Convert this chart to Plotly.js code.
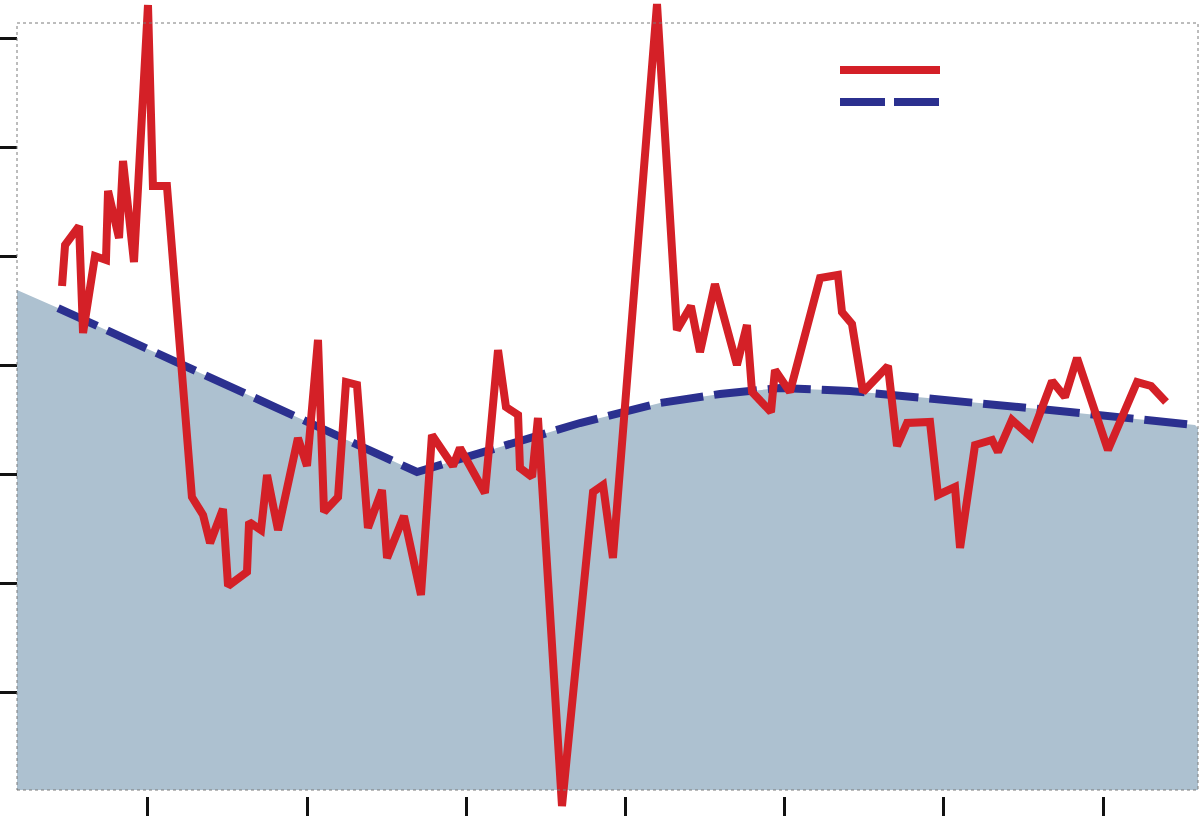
<!DOCTYPE html>
<html>
<head>
<meta charset="utf-8">
<script src="https://cdn.plot.ly/plotly-3.0.1.min.js"></script>
<style>
  html, body { margin: 0; padding: 0; background: #ffffff; }
  #chart { width: 1200px; height: 816px; }
</style>
</head>
<body>
<div id="chart"></div>
<script>
// ---- data (axis units: x ticks 1..7, y ticks 0..6) ----
const xTickVals = [1, 2, 3, 4, 5, 6, 7];
const yTickVals = [0, 1, 2, 3, 4, 5, 6];

const redX = [0.460, 0.479, 0.567, 0.592, 0.667, 0.736, 0.749, 0.818, 0.843, 0.912,
  1.000, 1.031, 1.119, 1.276, 1.346, 1.390, 1.471, 1.503, 1.622, 1.635,
  1.710, 1.748, 1.817, 1.942, 1.999, 2.068, 2.106, 2.194, 2.244, 2.313,
  2.382, 2.470, 2.502, 2.608, 2.715, 2.784, 2.916, 2.960, 3.117, 3.199,
  3.249, 3.325, 3.337, 3.413, 3.450, 3.601, 3.796, 3.859, 3.921, 4.198,
  4.323, 4.411, 4.468, 4.562, 4.700, 4.763, 4.795, 4.914, 4.939, 5.033,
  5.222, 5.335, 5.360, 5.423, 5.492, 5.649, 5.706, 5.769, 5.913, 5.963,
  6.070, 6.102, 6.196, 6.303, 6.340, 6.428, 6.548, 6.680, 6.761, 6.837,
  7.031, 7.214, 7.302, 7.396];
const redY = [3.730, 4.106, 4.280, 3.299, 4.005, 3.969, 4.602, 4.170, 4.877, 3.950,
  6.308, 4.647, 4.647, 1.794, 1.629, 1.372, 1.684, 0.978, 1.106, 1.565,
  1.491, 1.996, 1.491, 2.335, 2.079, 3.235, 1.657, 1.794, 2.849, 2.822,
  1.510, 1.858, 1.235, 1.620, 0.895, 2.363, 2.079, 2.244, 1.831, 3.143,
  2.620, 2.547, 2.060, 1.978, 2.519, -1.041, 1.840, 1.904, 1.235, 6.317,
  3.326, 3.547, 3.124, 3.748, 3.005, 3.372, 2.758, 2.574, 2.959, 2.758,
  3.803, 3.831, 3.491, 3.381, 2.758, 2.996, 2.262, 2.473, 2.482, 1.813,
  1.886, 1.326, 2.271, 2.317, 2.207, 2.501, 2.345, 2.858, 2.712, 3.069,
  2.225, 2.849, 2.813, 2.666];

const blueX = [0.435, 2.690, 3.714, 4.217, 4.594, 4.971, 5.410, 6.039, 6.667, 7.578];
const blueY = [3.528, 2.024, 2.473, 2.657, 2.739, 2.794, 2.767, 2.684, 2.592, 2.455];

const areaX = [0.177, 0.435, 2.690, 3.714, 4.217, 4.594, 4.971, 5.410, 6.039, 6.667, 7.578, 7.597];
const areaY = [3.693, 3.528, 2.024, 2.473, 2.657, 2.739, 2.794, 2.767, 2.684, 2.592, 2.455, 2.427];

// ---- layout geometry ----
const W = 1200, H = 816;
const xRange = [0.0702, 7.6094];
const yRange = [-1.1324, 6.3539];
const box = { x0: 17 / W, x1: 1198 / W, y0: (H - 790) / H, y1: (H - 23) / H };
const fx = f => xRange[0] + f * (xRange[1] - xRange[0]);
const fy = f => yRange[0] + f * (yRange[1] - yRange[0]);

const RED = 'rgb(212,32,39)';
const BLUE = 'rgb(43,48,143)';
const FILL = 'rgb(173,193,208)';

const traces = [
  { x: [fx(box.x0), fx(box.x1)], y: [fy(box.y0), fy(box.y0)], mode: 'lines',
    line: { width: 0, color: FILL }, hoverinfo: 'skip', showlegend: false },
  { x: areaX, y: areaY, mode: 'lines', fill: 'tonexty', fillcolor: FILL,
    line: { width: 0, color: FILL }, hoverinfo: 'skip', showlegend: false },
  { x: blueX, y: blueY, mode: 'lines', name: '',
    line: { color: BLUE, width: 8, dash: '43px,11px' }, showlegend: false },
  { x: redX, y: redY, mode: 'lines', name: '',
    line: { color: RED, width: 8 }, showlegend: false }
];

const axisCommon = {
  showticklabels: false, showgrid: false, zeroline: false, showline: false,
  ticks: 'outside', tickwidth: 3, tickcolor: '#111111', fixedrange: true
};

const layout = {
  width: W, height: H,
  margin: { l: 0, r: 0, t: 0, b: 0, pad: 0 },
  paper_bgcolor: '#ffffff',
  plot_bgcolor: 'rgba(0,0,0,0)',
  showlegend: false,
  hovermode: false,
  xaxis: Object.assign({}, axisCommon, {
    range: xRange, tickmode: 'array', tickvals: xTickVals,
    anchor: 'free', position: (H - 796) / H, ticklen: 20
  }),
  yaxis: Object.assign({}, axisCommon, {
    range: yRange, tickmode: 'array', tickvals: yTickVals,
    anchor: 'free', position: 17 / W, ticklen: 17
  }),
  shapes: [
    { type: 'rect', xref: 'paper', yref: 'paper', x0: box.x0, x1: box.x1, y0: box.y0, y1: box.y1,
      line: { color: '#7a7a7a', width: 1, dash: 'dot' }, layer: 'above' },
    { type: 'line', xref: 'paper', yref: 'paper', x0: 840 / W, x1: 940 / W, y0: (H - 70) / H, y1: (H - 70) / H,
      line: { color: RED, width: 8 } },
    { type: 'line', xref: 'paper', yref: 'paper', x0: 840 / W, x1: 940 / W, y0: (H - 102) / H, y1: (H - 102) / H,
      line: { color: BLUE, width: 8, dash: '45px,9px' } }
  ]
};

Plotly.newPlot('chart', traces, layout, { displayModeBar: false, staticPlot: true });
</script>
</body>
</html>
